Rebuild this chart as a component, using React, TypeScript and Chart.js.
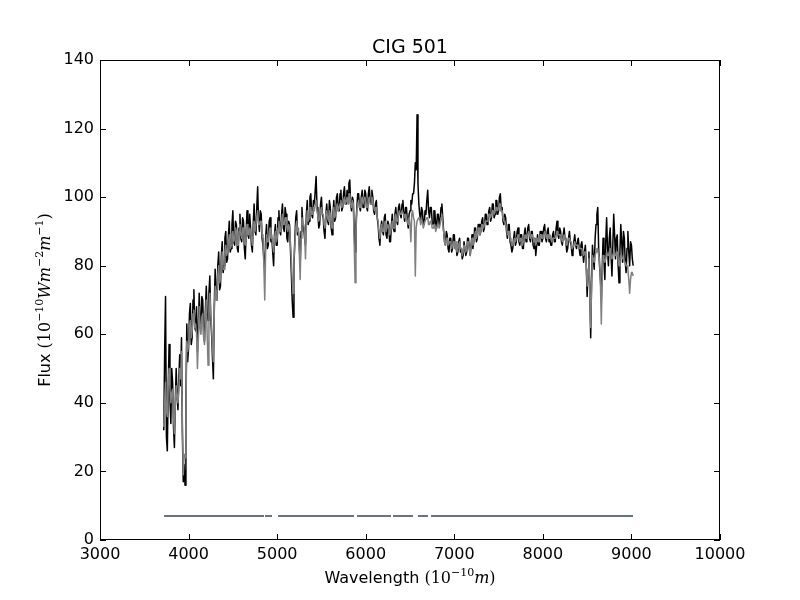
import React, { useEffect, useRef } from 'react';
import { Chart, registerables } from 'chart.js';

Chart.register(...registerables);

const TITLE = 'CIG 501';

// spectrum sampled every 10 Angstrom from 3720 to 9020 (one row = 100 Angstrom)
const WAVE_START = 3720;
const WAVE_STEP = 10;

// observed flux (black)
const FLUX_OBSERVED = [
  32, 55, 71, 30, 26, 44, 57, 41, 34, 50,
  46, 33, 27, 40, 50, 42, 38, 47, 54, 45,
  59, 31, 17, 22, 16, 40, 63, 52, 56, 66,
  69, 57, 59, 70, 73, 62, 61, 68, 55, 60,
  72, 64, 62, 71, 70, 60, 58, 67, 74, 66,
  64, 72, 77, 65, 60, 53, 47, 68, 79, 71,
  70, 80, 84, 73, 74, 83, 87, 78, 80, 88,
  90, 81, 82, 89, 93, 84, 85, 92, 96, 87,
  86, 93, 92, 85, 84, 91, 95, 88, 87, 94,
  93, 85, 82, 90, 96, 89, 88, 95, 91, 86,
  84, 92, 98, 90, 89, 97, 103, 93, 90, 96,
  95, 88, 86, 82, 78, 88, 92, 85, 86, 93,
  94, 87, 88, 84, 80, 89, 92, 86, 86, 94,
  96, 90, 89, 95, 98, 91, 90, 97, 95, 88,
  87, 93, 92, 85, 78, 70, 65, 80, 88, 94,
  96, 89, 90, 86, 80, 90, 97, 92, 91, 88,
  86, 95, 99, 92, 93, 100, 101, 95, 94, 99,
  98, 102, 106, 97, 95, 91, 92, 98, 100, 95,
  94, 90, 88, 95, 98, 93, 92, 99, 97, 91,
  89, 95, 99, 93, 94, 100, 101, 96, 96, 101,
  102, 96, 97, 101, 103, 98, 98, 102, 100, 104,
  105, 98, 96, 100, 99, 90, 84, 92, 97, 101,
  101, 97, 96, 100, 102, 97, 98, 102, 101, 97,
  96, 101, 103, 99, 98, 102, 100, 96, 95, 98,
  99, 94, 92, 88, 86, 91, 93, 90, 89, 94,
  95, 89, 88, 93, 92, 87, 87, 92, 95, 91,
  90, 95, 97, 93, 92, 97, 98, 95, 94, 98,
  99, 95, 93, 97, 97, 93, 91, 95, 96, 99,
  98, 101, 101, 104, 110, 108, 124, 104, 98, 95,
  93, 97, 96, 92, 92, 96, 95, 99, 102, 96,
  94, 97, 97, 93, 92, 96, 96, 92, 91, 95,
  95, 92, 93, 97, 98, 94, 90, 87, 86, 90,
  89, 85, 84, 88, 88, 84, 85, 89, 89, 85,
  86, 83, 84, 87, 88, 84, 85, 82, 83, 87,
  87, 83, 84, 88, 88, 85, 83, 86, 89, 85,
  87, 91, 91, 87, 88, 92, 92, 89, 90, 93,
  94, 90, 91, 95, 95, 92, 93, 96, 97, 93,
  94, 98, 98, 94, 95, 99, 99, 95, 96, 100,
  101, 96, 97, 93, 92, 95, 94, 90, 88, 92,
  92, 87, 86, 84, 85, 88, 90, 86, 87, 90,
  91, 87, 86, 89, 89, 85, 85, 89, 91, 87,
  88, 91, 92, 88, 87, 90, 90, 86, 85, 88,
  83, 86, 89, 86, 86, 90, 90, 87, 88, 91,
  92, 88, 87, 90, 91, 87, 88, 86, 86, 89,
  90, 87, 87, 91, 93, 89, 88, 91, 90, 87,
  86, 89, 91, 88, 87, 84, 85, 88, 90, 87,
  86, 83, 84, 87, 89, 86, 85, 87, 88, 85,
  83, 86, 87, 84, 81, 84, 86, 80, 71, 78,
  84, 73, 59, 75, 86, 82, 79, 88, 92, 95,
  97, 85, 80, 76, 70, 79, 88, 81, 76, 87,
  94, 85, 80, 88, 91, 83, 77, 86, 95, 89,
  82, 88, 89, 80, 75, 84, 92, 87, 81, 90,
  88, 81, 78, 85, 90, 84, 80, 87, 86, 82,
  80,
];

// fitted model flux (grey)
const FLUX_MODEL = [
  33, 40, 46, 38, 36, 45, 50, 44, 40, 43,
  44, 36, 31, 39, 45, 42, 40, 44, 50, 47,
  55, 35, 19, 25, 24, 38, 58, 55, 57, 62,
  64, 59, 61, 66, 67, 62, 63, 60, 50, 58,
  68, 62, 60, 65, 66, 59, 57, 64, 70, 60,
  51, 66, 72, 66, 62, 56, 52, 66, 74, 70,
  72, 77, 80, 75, 76, 81, 84, 79, 79, 84,
  86, 83, 84, 87, 89, 85, 86, 89, 90, 87,
  88, 91, 90, 86, 86, 90, 92, 89, 88, 91,
  91, 87, 86, 89, 92, 89, 89, 91, 90, 88,
  86, 90, 93, 90, 90, 94, 96, 92, 92, 93,
  93, 89, 88, 80, 70, 84, 89, 87, 87, 90,
  91, 88, 89, 86, 84, 88, 90, 87, 88, 91,
  93, 90, 90, 93, 95, 92, 92, 94, 94, 91,
  90, 92, 91, 87, 82, 76, 72, 82, 86, 91,
  93, 90, 91, 84, 76, 88, 94, 92, 92, 90,
  82, 92, 96, 93, 94, 97, 97, 95, 95, 97,
  96, 98, 99, 96, 96, 93, 94, 96, 97, 95,
  95, 92, 91, 95, 96, 94, 93, 96, 95, 92,
  91, 94, 97, 94, 95, 97, 98, 96, 97, 98,
  99, 97, 98, 99, 100, 98, 99, 100, 98, 101,
  101, 98, 97, 99, 98, 86, 75, 90, 96, 98,
  99, 97, 97, 99, 100, 98, 98, 100, 99, 97,
  97, 99, 100, 98, 98, 100, 99, 97, 96, 97,
  97, 94, 93, 90, 88, 91, 92, 90, 90, 92,
  93, 90, 90, 92, 91, 89, 90, 91, 93, 91,
  91, 94, 95, 93, 93, 95, 96, 95, 95, 96,
  96, 95, 94, 95, 94, 93, 92, 94, 92, 87,
  95, 96, 94, 93, 77, 91, 93, 93, 94, 94,
  92, 93, 93, 91, 92, 93, 93, 94, 94, 92,
  92, 93, 93, 91, 91, 92, 92, 90, 91, 92,
  92, 91, 92, 94, 95, 92, 90, 87, 86, 88,
  88, 86, 86, 87, 87, 85, 86, 87, 87, 85,
  87, 84, 85, 86, 87, 85, 85, 83, 84, 86,
  86, 84, 85, 87, 87, 85, 83, 86, 88, 86,
  87, 89, 90, 88, 89, 91, 91, 89, 90, 92,
  92, 91, 92, 93, 93, 93, 94, 95, 95, 94,
  95, 96, 96, 95, 96, 97, 97, 96, 97, 98,
  98, 96, 96, 94, 93, 93, 92, 91, 89, 90,
  90, 88, 87, 86, 86, 87, 88, 87, 88, 88,
  89, 88, 87, 88, 88, 86, 87, 88, 89, 88,
  89, 89, 90, 89, 88, 89, 89, 88, 87, 88,
  86, 87, 88, 87, 87, 89, 89, 88, 88, 89,
  90, 89, 88, 89, 89, 88, 89, 88, 87, 88,
  88, 88, 88, 89, 90, 89, 89, 89, 89, 88,
  87, 88, 89, 88, 87, 86, 87, 88, 88, 87,
  87, 85, 85, 86, 87, 86, 86, 86, 86, 85,
  85, 85, 85, 84, 83, 84, 84, 80, 74, 79,
  82, 72, 62, 74, 83, 82, 81, 83, 84, 85,
  85, 83, 82, 75, 63, 76, 83, 82, 81, 82,
  84, 83, 83, 84, 85, 83, 82, 83, 84, 84,
  83, 83, 84, 82, 80, 82, 83, 83, 82, 82,
  81, 81, 80, 80, 79, 76, 72, 76, 78, 78,
  77,
];

// masked-pixel flag line
const MASK_LEVEL = 7;
const MASK_STARTS = [3723, 4863, 5010, 5902, 6308, 6590, 6737];
const MASK_ENDS = [4852, 4942, 5868, 6286, 6534, 6703, 9018];

const X_TICKS = [3000, 4000, 5000, 6000, 7000, 8000, 9000, 10000];
const Y_TICKS = [0, 20, 40, 60, 80, 100, 120, 140];

const SANS = '"DejaVu Sans", sans-serif';
const SERIF = '"DejaVu Serif", serif';
const FS = 16;
const SUP = 11;

type Run = { t: string; f: string; dy?: number };

const X_LABEL: Run[] = [
  { t: 'Wavelength ', f: `${FS}px ${SANS}` },
  { t: '(10', f: `${FS}px ${SERIF}` },
  { t: '\u221210', f: `${SUP}px ${SERIF}`, dy: -7 },
  { t: 'm', f: `italic ${FS}px ${SERIF}` },
  { t: ')', f: `${FS}px ${SERIF}` },
];

const Y_LABEL: Run[] = [
  { t: 'Flux ', f: `${FS}px ${SANS}` },
  { t: '(10', f: `${FS}px ${SERIF}` },
  { t: '\u221210', f: `${SUP}px ${SERIF}`, dy: -7 },
  { t: 'Wm', f: `italic ${FS}px ${SERIF}` },
  { t: '\u22122', f: `${SUP}px ${SERIF}`, dy: -7 },
  { t: 'm', f: `italic ${FS}px ${SERIF}` },
  { t: '\u22121', f: `${SUP}px ${SERIF}`, dy: -7 },
  { t: ')', f: `${FS}px ${SERIF}` },
];

function drawRuns(ctx: CanvasRenderingContext2D, runs: Run[], cx: number, baseline: number) {
  let total = 0;
  runs.forEach(r => {
    ctx.font = r.f;
    total += ctx.measureText(r.t).width;
  });
  let x = cx - total / 2;
  ctx.textAlign = 'left';
  ctx.textBaseline = 'alphabetic';
  runs.forEach(r => {
    ctx.font = r.f;
    ctx.fillText(r.t, x, baseline + (r.dy || 0));
    x += ctx.measureText(r.t).width;
  });
}

// matplotlib-like frame: box, inward ticks on all sides, title and axis labels
const framePlugin = {
  id: 'frame',
  afterDraw(chart: any) {
    const { ctx, chartArea: a, scales } = chart;
    const tick = 6;
    ctx.save();
    ctx.strokeStyle = '#000';
    ctx.lineWidth = 1;
    ctx.strokeRect(Math.round(a.left) + 0.5, Math.round(a.top) + 0.5, Math.round(a.width) - 1, Math.round(a.height) - 1);
    ctx.beginPath();
    X_TICKS.forEach(v => {
      const px = Math.round(scales.x.getPixelForValue(v)) + 0.5;
      ctx.moveTo(px, a.bottom);
      ctx.lineTo(px, a.bottom - tick);
      ctx.moveTo(px, a.top);
      ctx.lineTo(px, a.top + tick);
    });
    Y_TICKS.forEach(v => {
      const py = Math.round(scales.y.getPixelForValue(v)) + 0.5;
      ctx.moveTo(a.left, py);
      ctx.lineTo(a.left + tick, py);
      ctx.moveTo(a.right, py);
      ctx.lineTo(a.right - tick, py);
    });
    ctx.stroke();

    ctx.fillStyle = '#000';
    const cx = (a.left + a.right) / 2;
    ctx.font = `19px ${SANS}`;
    ctx.textAlign = 'center';
    ctx.textBaseline = 'alphabetic';
    ctx.fillText(TITLE, cx, a.top - 7);

    drawRuns(ctx, X_LABEL, cx, a.bottom + 43);

    ctx.translate(a.left - 50, (a.top + a.bottom) / 2);
    ctx.rotate(-Math.PI / 2);
    drawRuns(ctx, Y_LABEL, 0, 0);
    ctx.restore();
  },
};

const App = () => {
  const canvasRef = useRef<HTMLCanvasElement>(null);
  const chartRef = useRef<Chart | null>(null);

  useEffect(() => {
    if (chartRef.current) {
      chartRef.current.destroy();
    }
    const ctx = canvasRef.current!.getContext('2d')!;

    const observed = FLUX_OBSERVED.map((y, i) => ({ x: WAVE_START + i * WAVE_STEP, y }));
    const model = FLUX_MODEL.map((y, i) => ({ x: WAVE_START + i * WAVE_STEP, y }));
    const mask: { x: number; y: number | null }[] = [];
    MASK_STARTS.forEach((s, i) => {
      mask.push({ x: s, y: MASK_LEVEL });
      mask.push({ x: MASK_ENDS[i], y: MASK_LEVEL });
      if (i < MASK_STARTS.length - 1) {
        mask.push({ x: (MASK_ENDS[i] + MASK_STARTS[i + 1]) / 2, y: null });
      }
    });

    const tickFont = { family: SANS, size: FS };

    chartRef.current = new Chart(ctx, {
      type: 'line',
      data: {
        datasets: [
          {
            label: 'Observed',
            data: observed,
            borderColor: '#000000',
            borderWidth: 1.5,
            pointRadius: 0,
            tension: 0,
            borderJoinStyle: 'round',
            order: 2,
          },
          {
            label: 'Model',
            data: model,
            borderColor: '#808080',
            borderWidth: 1.5,
            pointRadius: 0,
            tension: 0,
            borderJoinStyle: 'round',
            order: 1,
          },
          {
            label: 'Mask',
            data: mask,
            borderColor: '#66757c',
            borderWidth: 2,
            pointRadius: 0,
            spanGaps: false,
            order: 0,
          },
        ],
      },
      options: {
        animation: false,
        responsive: false,
        layout: { padding: { left: 0, right: 80, top: 60, bottom: 0 } },
        plugins: {
          legend: { display: false },
          tooltip: { enabled: false },
          title: { display: false },
        },
        scales: {
          x: {
            type: 'linear',
            min: 3000,
            max: 10000,
            afterBuildTicks: (scale: any) => {
              scale.ticks = X_TICKS.map(value => ({ value }));
            },
            afterFit: (scale: any) => {
              scale.height = 60;
            },
            ticks: {
              callback: (value: any) => String(value),
              font: tickFont,
              color: '#000',
              padding: 5,
              maxRotation: 0,
              autoSkip: false,
            },
            grid: { display: false, drawTicks: false },
            border: { display: false },
          },
          y: {
            type: 'linear',
            min: 0,
            max: 140,
            afterBuildTicks: (scale: any) => {
              scale.ticks = Y_TICKS.map(value => ({ value }));
            },
            afterFit: (scale: any) => {
              scale.width = 100;
            },
            ticks: {
              callback: (value: any) => String(value),
              font: tickFont,
              color: '#000',
              padding: 6,
            },
            grid: { display: false, drawTicks: false },
            border: { display: false },
          },
        },
      },
      plugins: [framePlugin],
    });

    return () => {
      if (chartRef.current) {
        chartRef.current.destroy();
        chartRef.current = null;
      }
    };
  }, []);

  return (
    <div style={{ position: 'fixed', left: 0, top: 0, width: 800, height: 600, background: '#fff' }}>
      <canvas ref={canvasRef} width={800} height={600} />
    </div>
  );
};

export default App;
